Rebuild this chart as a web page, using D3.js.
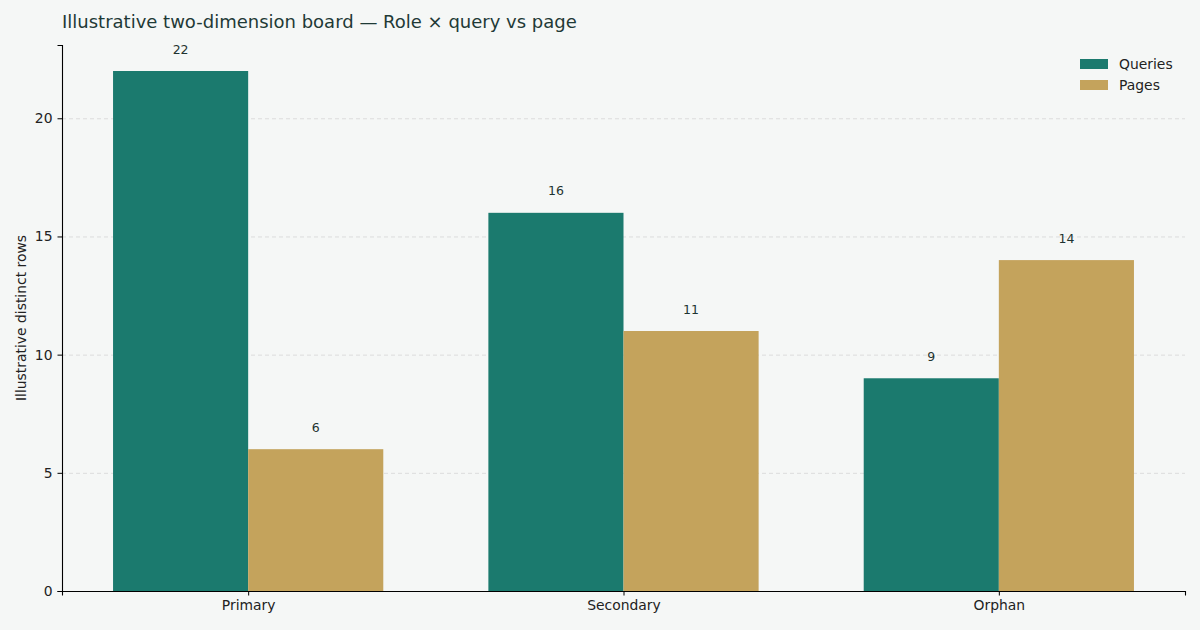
<!DOCTYPE html>
<html>
<head>
<meta charset="utf-8">
<script src="https://cdn.jsdelivr.net/npm/d3@7"></script>
<style>
  body { margin: 0; background: #f5f7f6; }
  svg { font-family: "DejaVu Sans", sans-serif; }
</style>
</head>
<body>
<svg id="chart" width="1200" height="630"></svg>
<script>
const roles = ['Primary', 'Secondary', 'Orphan'];
const queries = [22, 16, 9];
const pages = [6, 11, 14];
const yTicks = [0, 5, 10, 15, 20];
const seriesNames = ['Queries', 'Pages'];
const seriesColours = ['#1b7a6e', '#c4a35c'];

const width = 1200, height = 630;
const margins = { left: 62, right: 15, top: 45, bottom: 39 };
const barW = 0.36;

const vis = d3.select('#chart');

vis.append('rect').attr('width', width).attr('height', height).attr('fill', '#f5f7f6');

// matplotlib style padding round the bars
const lo = -barW, hi = roles.length - 1 + barW;
const pad = (hi - lo) * 0.05;
const xScale = d3.scaleLinear()
  .domain([lo - pad, hi + pad])
  .range([margins.left, width - margins.right]);
const yMax = d3.max(queries.concat(pages)) * 1.05;
const yScale = d3.scaleLinear()
  .domain([0, yMax])
  .range([height - margins.bottom, margins.top]);

// gridlines
vis.append('g')
  .attr('transform', 'translate(' + margins.left + ',0)')
  .call(d3.axisLeft(yScale).tickValues(yTicks.slice(1))
    .tickSize(-(width - margins.left - margins.right)).tickFormat(''))
  .call(g => g.select('.domain').remove())
  .call(g => g.selectAll('line').attr('stroke', '#dcdcdc').attr('stroke-dasharray', '4,3'));

const series = [queries, pages];
series.forEach((vals, s) => {
  const off = s === 0 ? -barW / 2 : barW / 2;
  vis.append('g').selectAll('rect')
    .data(vals)
    .join('rect')
    .attr('x', (d, i) => xScale(i + off - barW / 2))
    .attr('width', xScale(barW) - xScale(0))
    .attr('y', d => yScale(d))
    .attr('height', d => yScale(0) - yScale(d))
    .attr('fill', seriesColours[s]);

  vis.append('g').selectAll('text')
    .data(vals)
    .join('text')
    .attr('x', (d, i) => xScale(i + off))
    .attr('y', d => yScale(d + 0.74))
    .attr('text-anchor', 'middle')
    .attr('font-size', 12.5)
    .attr('fill', '#1f3330')
    .text(d => d);
});

// axes
const xAxis = d3.axisBottom(xScale)
  .tickValues(d3.range(roles.length))
  .tickFormat(i => roles[i])
  .tickSizeOuter(0)
  .tickSize(4.5)
  .tickPadding(5);
const yAxis = d3.axisLeft(yScale)
  .tickValues(yTicks)
  .tickSizeOuter(0)
  .tickSize(4.5)
  .tickPadding(5);

vis.append('g')
  .attr('transform', 'translate(0,' + (height - margins.bottom) + ')')
  .call(xAxis)
  .attr('font-size', 13.9)
  .attr('font-family', 'DejaVu Sans')
  .call(g => g.selectAll('text').attr('fill', '#222'))
  .call(g => g.select('.domain').attr('stroke', '#000').attr('stroke-width', 1.1));

vis.append('g')
  .attr('transform', 'translate(' + margins.left + ',0)')
  .call(yAxis)
  .attr('font-size', 13.9)
  .attr('font-family', 'DejaVu Sans')
  .call(g => g.selectAll('text').attr('fill', '#222'))
  .call(g => g.select('.domain').attr('stroke', '#000').attr('stroke-width', 1.1));

// title
vis.append('text')
  .attr('x', margins.left)
  .attr('y', 28)
  .attr('font-size', 18)
  .attr('fill', '#1f3a36')
  .text('Illustrative two-dimension board — Role × query vs page');

// y label
vis.append('text')
  .attr('transform', 'translate(26,' + ((margins.top + height - margins.bottom) / 2) + ') rotate(-90)')
  .attr('text-anchor', 'middle')
  .attr('font-size', 13.9)
  .attr('fill', '#222')
  .text('Illustrative distinct rows');

// legend
const legend = vis.append('g').attr('transform', 'translate(1080,59)');
seriesNames.forEach((name, i) => {
  legend.append('rect')
    .attr('x', 0).attr('y', i * 21)
    .attr('width', 28).attr('height', 10)
    .attr('fill', seriesColours[i]);
  legend.append('text')
    .attr('x', 39).attr('y', i * 21 + 10)
    .attr('font-size', 13.9)
    .attr('fill', '#222')
    .text(name);
});
</script>
</body>
</html>
